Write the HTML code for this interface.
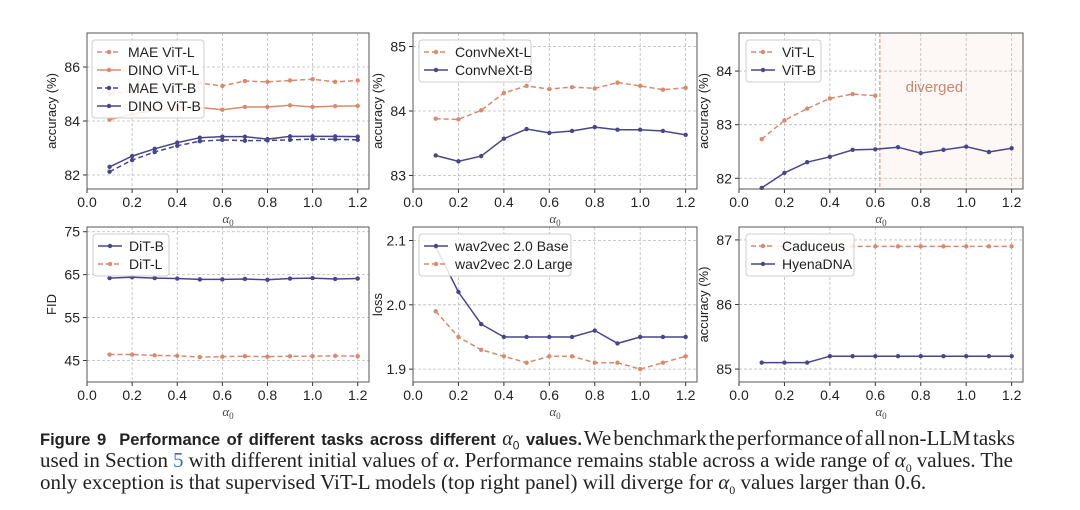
<!DOCTYPE html>
<html><head><meta charset="utf-8">
<style>
body{margin:0;background:#fff;width:1080px;height:510px;overflow:hidden;}
svg{display:block;font-family:"Liberation Sans",sans-serif;}
.cap{position:absolute;left:40px;width:973px;font-family:"Liberation Serif",serif;font-size:21px;color:#222;line-height:22px;text-align:justify;}
.cap div{height:22px;overflow:visible;}
</style></head><body>
<svg id="fig" width="1080" height="425" viewBox="0 0 1080 425"></svg>
<div class="cap" style="top:427px;">
<div style="text-align-last:justify;word-spacing:-5px;width:975px"><b style="font-family:'Liberation Sans',sans-serif;font-size:16.5px;word-spacing:0">Figure 9&nbsp; Performance of different tasks across different <i style="font-family:'Liberation Serif',serif;font-weight:normal;font-size:20px">α</i><sub style="font-weight:normal;font-size:12px">0</sub> values.</b> We benchmark the performance of all non-LLM tasks</div>
<div style="text-align-last:justify;word-spacing:-2px">used in Section <span style="color:#3a6fb0">5</span> with different initial values of <i>α</i>. Performance remains stable across a wide range of <i>α</i><sub style="font-size:12px">0</sub> values. The</div>
<div style="white-space:nowrap">only exception is that supervised ViT-L models (top right panel) will diverge for <i>α</i><sub style="font-size:12px">0</sub> values larger than 0.6.</div>
</div>
<script>
const alphas=[0.1,0.2,0.3,0.4,0.5,0.6,0.7,0.8,0.9,1.0,1.1,1.2];
const xTicks=[0.0,0.2,0.4,0.6,0.8,1.0,1.2];
const maeVitL=[85.0,85.1,85.2,85.3,85.4,85.3,85.48,85.45,85.5,85.55,85.45,85.5];
const dinoVitL=[84.05,84.25,84.4,84.5,84.5,84.42,84.52,84.52,84.58,84.52,84.55,84.56];
const maeVitB=[82.12,82.55,82.85,83.08,83.25,83.3,83.27,83.28,83.3,83.33,83.32,83.3];
const dinoVitB=[82.3,82.7,82.97,83.2,83.38,83.42,83.42,83.33,83.43,83.43,83.43,83.42];
const convL=[83.88,83.87,84.01,84.28,84.39,84.34,84.37,84.35,84.44,84.39,84.33,84.36];
const convB=[83.31,83.22,83.3,83.57,83.72,83.66,83.69,83.75,83.71,83.71,83.69,83.63];
const vitLAlphas=[0.1,0.2,0.3,0.4,0.5,0.6];
const vitL=[82.73,83.08,83.3,83.49,83.57,83.54];
const vitB=[81.82,82.1,82.3,82.4,82.53,82.54,82.58,82.47,82.53,82.59,82.49,82.56];
const ditB=[64.2,64.4,64.2,64.1,63.9,63.9,64.0,63.8,64.1,64.2,64.0,64.1];
const ditL=[46.4,46.4,46.2,46.1,45.8,45.9,46.0,45.9,46.0,46.0,46.1,46.0];
const w2vBase=[2.09,2.02,1.97,1.95,1.95,1.95,1.95,1.96,1.94,1.95,1.95,1.95];
const w2vLarge=[1.99,1.95,1.93,1.92,1.91,1.92,1.92,1.91,1.91,1.90,1.91,1.92];
const caduceus=[86.9,86.9,86.9,86.9,86.9,86.9,86.9,86.9,86.9,86.9,86.9,86.9];
const hyena=[85.1,85.1,85.1,85.2,85.2,85.2,85.2,85.2,85.2,85.2,85.2,85.2];
const divergeAt=0.62;

const OR='#d98a6c', PU='#48468a';
const NS='http://www.w3.org/2000/svg';
const svg=document.getElementById('fig');
function mk(tag,attrs,parent,text){const e=document.createElementNS(NS,tag);for(const k in attrs)e.setAttribute(k,attrs[k]);if(text!==undefined)e.textContent=text;(parent||svg).appendChild(e);return e;}

function panel(cfg){
  const g=mk('g',{});
  
  
  const {x0,x1,y0,y1,ymin,ymax}=cfg;
  const sx=v=>x0+(v-0)/(1.25)*(x1-x0);
  const sy=v=>y1-(v-ymin)/(ymax-ymin)*(y1-y0);
  if(cfg.shade!==undefined){
    const r=mk('rect',{x:sx(cfg.shade),y:y0,width:x1-sx(cfg.shade),height:y1-y0,fill:'#fdf8f5'},g);
    
    
  }
  xTicks.forEach(t=>{
    mk('line',{x1:sx(t),x2:sx(t),y1:y0,y2:y1,stroke:'#bbb','stroke-width':0.8,'stroke-dasharray':'3,2'},g);
    mk('line',{x1:sx(t),x2:sx(t),y1:y1,y2:y1+4,stroke:'#333','stroke-width':1},g);
    const tl=mk('text',{x:sx(t),y:y1+18,'text-anchor':'middle','font-size':14,fill:'#222'},g,t.toFixed(1));
    
    
  });
  cfg.yTicks.forEach((t,i)=>{
    mk('line',{x1:x0,x2:x1,y1:sy(t),y2:sy(t),stroke:'#bbb','stroke-width':0.8,'stroke-dasharray':'3,2'},g);
    mk('line',{x1:x0-4,x2:x0,y1:sy(t),y2:sy(t),stroke:'#333','stroke-width':1},g);
    const tl=mk('text',{x:x0-7,y:sy(t)+5,'text-anchor':'end','font-size':14,fill:'#222'},g,cfg.yTickLabels[i]);
    
    
  });
  if(cfg.shade!==undefined){
    mk('line',{x1:sx(cfg.shade),x2:sx(cfg.shade),y1:y0,y2:y1,stroke:OR,'stroke-width':1,'stroke-dasharray':'4,2'},g);
    const dt=mk('text',{x:sx(0.86),y:sy(83.7)+5,'text-anchor':'middle','font-size':15,fill:'#c9866c'},g,'diverged');
    
    
  }
  cfg.series.forEach(s=>{
    const xs=s.xs||alphas;
    const pts=s.vals.map((v,i)=>sx(xs[i]).toFixed(1)+','+sy(v).toFixed(1)).join(' ');
    const pl=mk('polyline',{points:pts,fill:'none',stroke:s.color,'stroke-width':1.5,'stroke-dasharray':s.dash?'5,3':'none'},g);
    
    
    s.vals.forEach((v,i)=>{
      const c=mk('circle',{cx:sx(xs[i]),cy:sy(v),r:2.2,fill:s.color},g);
      
      
    });
  });
  mk('rect',{x:x0,y:y0,width:x1-x0,height:y1-y0,fill:'none',stroke:'#555','stroke-width':1},g);
  const yl=mk('text',{x:0,y:0,transform:`translate(${x0-31},${(y0+y1)/2}) rotate(-90)`,'text-anchor':'middle','font-size':13,fill:'#222'},g,cfg.ylabel);
  
  
  const xl=mk('text',{x:(x0+x1)/2,y:y1+34,'text-anchor':'middle','font-size':13,fill:'#444','font-family':'Liberation Serif',"font-style":'italic'},g);
  
  
  mk('tspan',{},xl,'α');mk('tspan',{'font-size':9,dy:3,'font-style':'normal'},xl,'0');
  const L=cfg.legend;
  const lg=mk('g',{},g);
  
  
  mk('rect',{x:L.x,y:L.y,width:L.w,height:cfg.series.length*18+6,rx:3,fill:'rgba(255,255,255,0.85)',stroke:'#ccc','stroke-width':1},lg);
  cfg.series.forEach((s,i)=>{
    const yy=L.y+12+i*18;
    const e=mk('g',{},lg);
    
    
    mk('line',{x1:L.x+5,x2:L.x+29,y1:yy,y2:yy,stroke:s.color,'stroke-width':1.5,'stroke-dasharray':s.dash?'5,3':'none'},e);
    mk('circle',{cx:L.x+17,cy:yy,r:2.2,fill:s.color},e);
    mk('text',{x:L.x+36,y:yy+5,'font-size':14,fill:'#222'},e,s.label);
  });
}

panel({name:'panel-ssl-vit',x0:87,x1:369,y0:33,y1:189,ymin:81.48,ymax:87.26,yTicks:[82,84,86],yTickLabels:['82','84','86'],ylabel:'accuracy (%)',
  legend:{x:92,y:40,w:112},
  series:[{id:'mae-vit-l',label:'MAE ViT-L',vals:maeVitL,color:OR,dash:true},{id:'dino-vit-l',label:'DINO ViT-L',vals:dinoVitL,color:OR},
          {id:'mae-vit-b',label:'MAE ViT-B',vals:maeVitB,color:PU,dash:true},{id:'dino-vit-b',label:'DINO ViT-B',vals:dinoVitB,color:PU}]});
panel({name:'panel-convnext',x0:413,x1:697,y0:33,y1:189,ymin:82.79,ymax:85.21,yTicks:[83,84,85],yTickLabels:['83','84','85'],ylabel:'accuracy (%)',
  legend:{x:419,y:40,w:112},
  series:[{id:'convnext-l',label:'ConvNeXt-L',vals:convL,color:OR,dash:true},{id:'convnext-b',label:'ConvNeXt-B',vals:convB,color:PU}]});
panel({name:'panel-supervised-vit',x0:739,x1:1023,y0:33,y1:189,ymin:81.8,ymax:84.71,yTicks:[82,83,84],yTickLabels:['82','83','84'],ylabel:'accuracy (%)',
  shade:divergeAt,legend:{x:746,y:40,w:75},
  series:[{id:'vit-l',label:'ViT-L',xs:vitLAlphas,vals:vitL,color:OR,dash:true},{id:'vit-b',label:'ViT-B',vals:vitB,color:PU}]});
panel({name:'panel-dit',x0:87,x1:369,y0:227,y1:382,ymin:40,ymax:76.1,yTicks:[45,55,65,75],yTickLabels:['45','55','65','75'],ylabel:'FID',
  legend:{x:93,y:234,w:76},
  series:[{id:'dit-b',label:'DiT-B',vals:ditB,color:PU},{id:'dit-l',label:'DiT-L',vals:ditL,color:OR,dash:true}]});
panel({name:'panel-wav2vec',x0:413,x1:697,y0:227,y1:382,ymin:1.88,ymax:2.121,yTicks:[1.9,2.0,2.1],yTickLabels:['1.9','2.0','2.1'],ylabel:'loss',
  legend:{x:419,y:234,w:152},
  series:[{id:'wav2vec-base',label:'wav2vec 2.0 Base',vals:w2vBase,color:PU},{id:'wav2vec-large',label:'wav2vec 2.0 Large',vals:w2vLarge,color:OR,dash:true}]});
panel({name:'panel-dna',x0:739,x1:1023,y0:227,y1:382,ymin:84.8,ymax:87.2,yTicks:[85,86,87],yTickLabels:['85','86','87'],ylabel:'accuracy (%)',
  legend:{x:746,y:234,w:108},
  series:[{id:'caduceus',label:'Caduceus',vals:caduceus,color:OR,dash:true},{id:'hyenadna',label:'HyenaDNA',vals:hyena,color:PU}]});
</script>
</body></html>
